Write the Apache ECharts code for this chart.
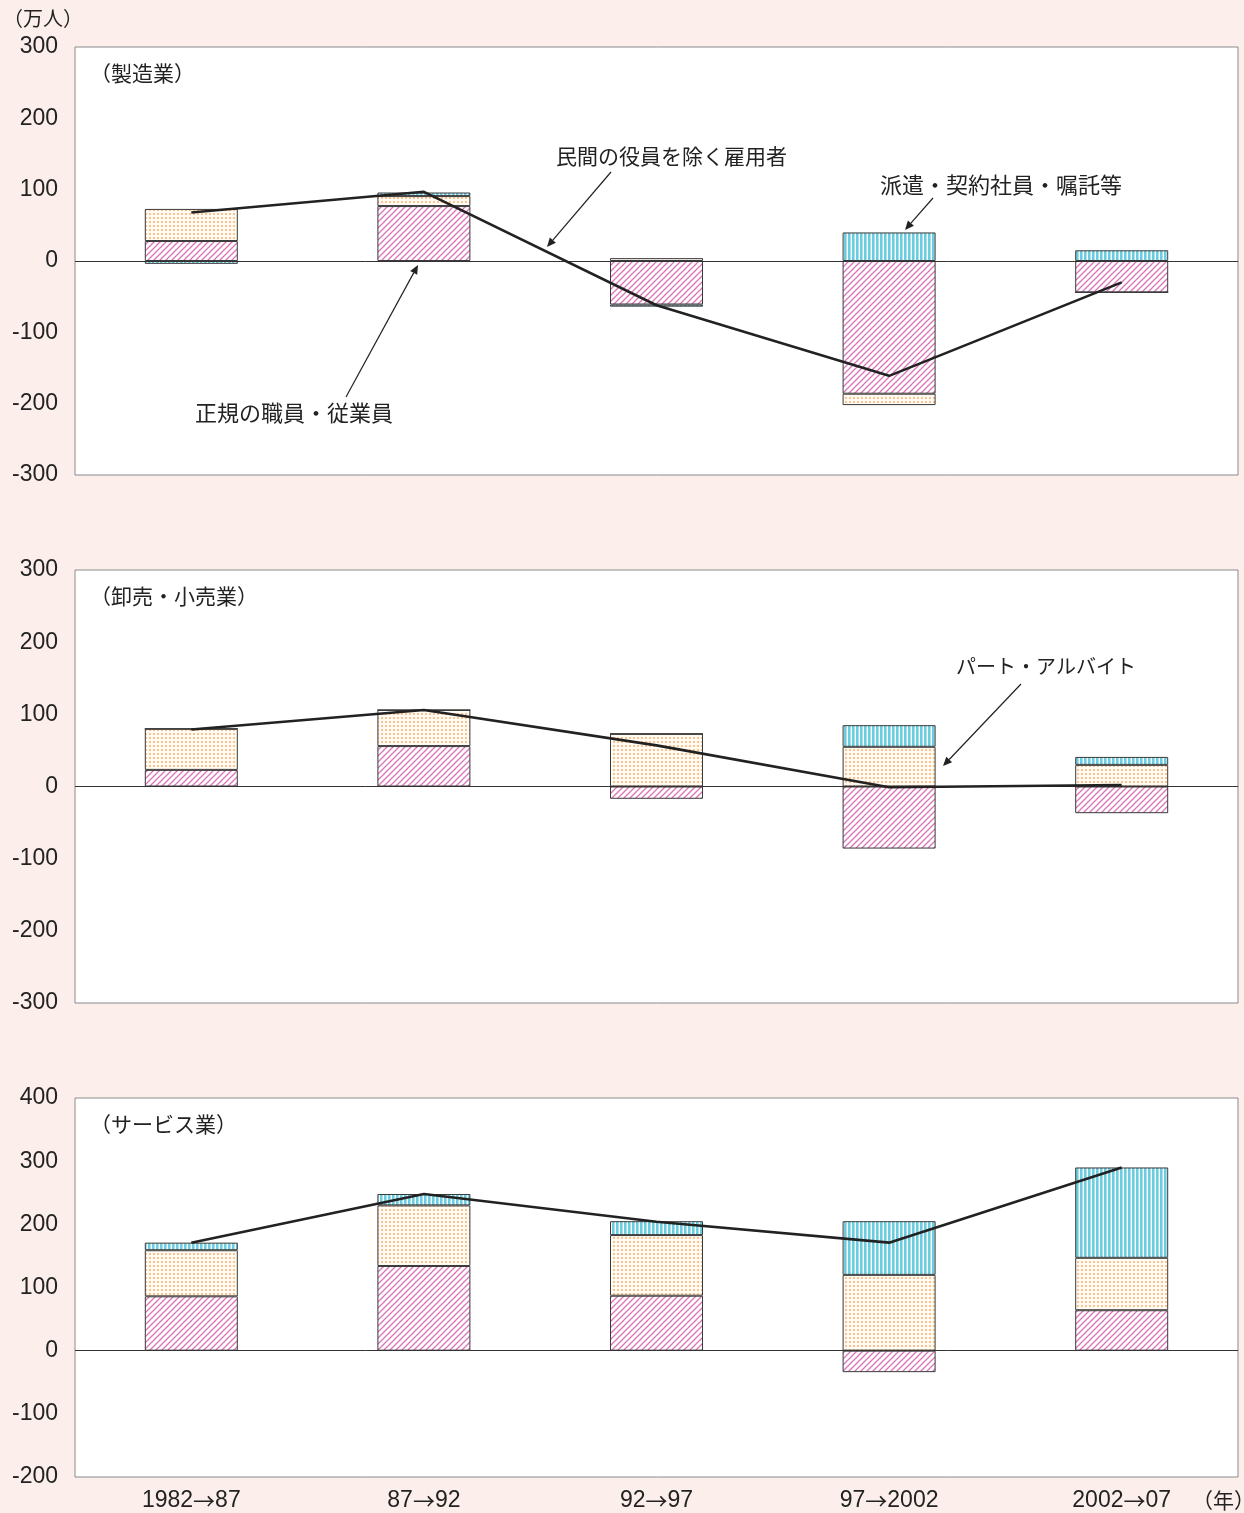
<!DOCTYPE html>
<html><head><meta charset="utf-8">
<script src="https://cdn.jsdelivr.net/npm/echarts@6/dist/echarts.min.js"></script>
<style>html,body{margin:0;padding:0;background:#fcefeb;}#c{width:1244px;height:1513px;}</style>
</head><body><div id="c"></div>
<script>
const categories = ['1982→87','87→92','92→97','97→2002','2002→07'];
// 製造業
const mfgRegular  = [28, 77, -61, -186, -44];
const mfgPart     = [45, 14, 4, -16, 0];
const mfgDispatch = [-4, 5, -3, 40, 15];
const mfgTotal    = [68, 97, -62, -161, -30];
// 卸売・小売業
const wrRegular  = [23, 56, -17, -86, -37];
const wrPart     = [57, 50, 73, 55, 30];
const wrDispatch = [0, 0, 0, 30, 11];
const wrTotal    = [79, 106, 57, -1, 2];
// サービス業
const svRegular  = [86, 134, 87, -34, 64];
const svPart     = [73, 96, 96, 120, 83];
const svDispatch = [12, 18, 22, 85, 143];
const svTotal    = [171, 248, 204, 171, 290];

const panelTitles = ['（製造業）','（卸売・小売業）','（サービス業）'];
const yRanges = [[-300,300],[-300,300],[-200,400]];

function mkCanvas(w,h,draw){const c=document.createElement('canvas');c.width=w;c.height=h;const g=c.getContext('2d');draw(g);return c;}
const hatch = mkCanvas(6,6,g=>{g.fillStyle='#fff';g.fillRect(0,0,6,6);g.strokeStyle='#dc72b8';g.lineWidth=1.3;
  g.beginPath();g.moveTo(-1,7);g.lineTo(7,-1);g.moveTo(-1,1);g.lineTo(1,-1);g.moveTo(5,7);g.lineTo(7,5);g.stroke();});
const dots = mkCanvas(4,4,g=>{g.fillStyle='#fffaf4';g.fillRect(0,0,4,4);g.fillStyle='#fbc48c';g.fillRect(1,1,2,2);});
const stripes = mkCanvas(4,2,g=>{g.fillStyle='#fff';g.fillRect(0,0,4,2);g.fillStyle='#6ccde0';g.fillRect(0,0,2.6,2);});

const pats = {
  reg: {image: hatch, repeat:'repeat'},
  part: {image: dots, repeat:'repeat'},
  disp: {image: stripes, repeat:'repeat'}
};

const grids = [
  {left:75, right:6, top:47, height:428},
  {left:75, right:6, top:570, height:433},
  {left:75, right:6, top:1098, height:379}
];
const data = [
  [mfgRegular, mfgPart, mfgDispatch, mfgTotal],
  [wrRegular, wrPart, wrDispatch, wrTotal],
  [svRegular, svPart, svDispatch, svTotal]
];
const numFont = 'Liberation Sans, Arial, sans-serif';
const jpFont = '"Noto Sans CJK JP", sans-serif';

const option = {
  animation:false,
  backgroundColor:'#fcefeb',
  grid: grids.map(g=>Object.assign({show:true, backgroundColor:'#fff', borderColor:'#8a8a8a', borderWidth:1}, g)),
  xAxis: grids.map((g,i)=>({
    type:'category', gridIndex:i, data:categories, boundaryGap:true,
    axisLine:{show:false}, axisTick:{show:false},
    axisLabel:{show:i===2, interval:0, hideOverlap:false, color:'#222', fontSize:23, fontFamily:numFont, margin:12,
      formatter: v => v.split('→').map(s=>'{n|'+s+'}').join('{a|→}'),
      rich:{
        n:{fontSize:23, fontFamily:numFont, color:'#222'},
        a:{fontSize:22, fontFamily:jpFont, color:'#222'}
      }}
  })),
  yAxis: grids.map((g,i)=>({
    type:'value', gridIndex:i, min:yRanges[i][0], max:yRanges[i][1], interval:100,
    axisLine:{show:false}, axisTick:{show:false}, splitLine:{show:false},
    axisLabel:{color:'#222', fontSize:23, fontFamily:numFont, margin:17}
  })),
  series: [],
  graphic: []
};

data.forEach((d,i)=>{
  const names = ['正規の職員・従業員','パート・アルバイト','派遣・契約社員・嘱託等'];
  const keys = ['reg','part','disp'];
  for(let k=0;k<3;k++){
    option.series.push({
      type:'bar', name:names[k], xAxisIndex:i, yAxisIndex:i, stack:'s'+i, barWidth:93,
      data:d[k], itemStyle:{color:pats[keys[k]], borderColor:'#3a3a3a', borderWidth:1}
    });
  }
  option.series.push({
    type:'line', name:'民間の役員を除く雇用者', xAxisIndex:i, yAxisIndex:i, data:d[3],
    symbol:'none', lineStyle:{color:'#222', width:2.6}, z:5,
    markLine:{silent:true, symbol:'none', label:{show:false}, lineStyle:{color:'#333', width:1, type:'solid'},
      data:[{yAxis:0}]}
  });
  option.graphic.push({type:'text', left:90, top:grids[i].top+16, style:{text:panelTitles[i], font:'21px '+jpFont, fill:'#222'}});
});

function arrow(x1,y1,x2,y2){
  const a=Math.atan2(y2-y1,x2-x1), L=9, W=4;
  const bx=x2-L*Math.cos(a), by=y2-L*Math.sin(a);
  const px=-Math.sin(a)*W, py=Math.cos(a)*W;
  return [
    {type:'line', shape:{x1:x1,y1:y1,x2:bx,y2:by}, style:{stroke:'#222', lineWidth:1.2}, z:100},
    {type:'polygon', shape:{points:[[x2,y2],[bx+px,by+py],[bx-px,by-py]]}, style:{fill:'#222'}, z:100}
  ];
}
function label(txt,x,y,fs){return {type:'text', x:x, y:y, style:{text:txt, font:fs+'px '+jpFont, fill:'#222', textVerticalAlign:'middle'}, z:100};}

option.graphic.push(
  label('民間の役員を除く雇用者',556,156,21), ...arrow(611,172,547,247),
  label('派遣・契約社員・嘱託等',880,185,22), ...arrow(933,198,905,230),
  label('正規の職員・従業員',195,413,22), ...arrow(346,397,418,265),
  label('パート・アルバイト',956,666,20), ...arrow(1021,684,943,766),
  {type:'text', x:3, y:18, style:{text:'（万人）', font:'20px '+jpFont, fill:'#222', textVerticalAlign:'middle'}},
  {type:'text', x:1192, y:1500, style:{text:'（年）', font:'21px '+jpFont, fill:'#222', textVerticalAlign:'middle'}}
);

const chart = echarts.init(document.getElementById('c'), null, {renderer:'canvas'});
chart.setOption(option);
</script></body></html>
